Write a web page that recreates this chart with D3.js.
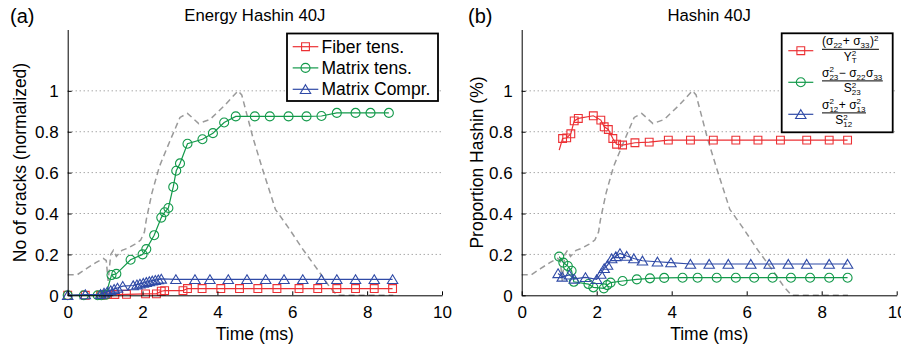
<!DOCTYPE html>
<html>
<head>
<meta charset="utf-8">
<script src="https://cdn.jsdelivr.net/npm/d3@7"></script>
<style>
  body { margin: 0; background: #fff; }
  svg { display: block; font-family: "Liberation Sans", Arial, Helvetica, sans-serif; }
</style>
</head>
<body>
<svg id="chart" width="901" height="348"></svg>
<script>
// ---- values ----
const timeTicks = [0, 2, 4, 6, 8, 10];
const valueTicks = [0, 0.2, 0.4, 0.6, 0.8, 1];

// normalised energy (grey dashed), same curve in both panels
const energyTime = [0, 0.25, 0.5, 0.75, 0.95, 1.03, 1.08, 1.15, 1.22, 1.3, 1.45, 1.6, 1.8, 1.95, 2.05, 2.1, 2.25, 2.45, 2.72, 3.0, 3.2, 3.5, 3.8, 4.2, 4.55, 4.65, 4.95, 5.2, 5.55, 5.9, 6.3, 6.7, 7.0, 7.2, 7.8, 8.7];
const energyValue = [0.1, 0.1, 0.13, 0.16, 0.18, 0.17, 0.07, 0.2, 0.22, 0.19, 0.22, 0.23, 0.25, 0.27, 0.31, 0.37, 0.5, 0.63, 0.75, 0.87, 0.89, 0.84, 0.86, 0.93, 1.0, 0.98, 0.77, 0.62, 0.42, 0.33, 0.22, 0.12, 0.04, 0, 0, 0];

// (a) number of cracks
const fiberTime = [0, 0.47, 0.88, 0.97, 1.06, 1.26, 1.57, 2.08, 2.37, 2.5, 2.59, 3.08, 3.2, 3.59, 4.09, 4.59, 5.08, 5.59, 6.18, 6.68, 7.19, 7.69, 8.19, 8.68];
const fiberCount = [0, 0, 0, 0.002, 0.004, 0.004, 0.005, 0.007, 0.007, 0.02, 0.023, 0.023, 0.033, 0.033, 0.033, 0.033, 0.033, 0.033, 0.033, 0.033, 0.033, 0.033, 0.033, 0.033];

const matrixTensTime = [0, 0.43, 0.8, 0.9, 1.02, 1.17, 1.3, 1.68, 2.0, 2.1, 2.31, 2.5, 2.59, 2.69, 2.82, 2.9, 3.0, 3.2, 3.6, 3.88, 4.18, 4.49, 5.0, 5.4, 5.9, 6.38, 6.78, 7.19, 7.69, 8.09, 8.58];
const matrixTensCount = [0, 0, 0, 0, 0.003, 0.099, 0.105, 0.174, 0.2, 0.226, 0.294, 0.38, 0.406, 0.427, 0.53, 0.609, 0.645, 0.741, 0.763, 0.793, 0.845, 0.875, 0.875, 0.875, 0.875, 0.875, 0.877, 0.892, 0.892, 0.892, 0.892];

const matrixComprTime = [0, 0.47, 0.88, 0.97, 1.06, 1.15, 1.24, 1.33, 1.47, 1.75, 1.85, 1.93, 2.02, 2.1, 2.18, 2.26, 2.34, 2.42, 2.5, 2.89, 3.4, 3.8, 4.29, 4.79, 5.29, 5.78, 6.28, 6.78, 7.19, 7.69, 8.19, 8.68];
const matrixComprCount = [0, 0.004, 0.005, 0.012, 0.018, 0.024, 0.03, 0.036, 0.045, 0.048, 0.052, 0.056, 0.06, 0.064, 0.068, 0.071, 0.074, 0.077, 0.08, 0.078, 0.078, 0.078, 0.078, 0.078, 0.078, 0.078, 0.078, 0.078, 0.078, 0.078, 0.078, 0.078];

// (b) proportion of each Hashin term
const propFiberTime = [1.0, 1.09, 1.2, 1.31, 1.4, 1.51, 1.91, 2.11, 2.2, 2.31, 2.43, 2.53, 2.69, 3.02, 3.4, 3.91, 4.5, 5.11, 5.71, 6.3, 6.9, 7.6, 8.2, 8.69];
const propFiberValue = [0.71, 0.767, 0.77, 0.79, 0.853, 0.865, 0.878, 0.857, 0.824, 0.811, 0.767, 0.739, 0.735, 0.746, 0.749, 0.759, 0.759, 0.759, 0.759, 0.759, 0.759, 0.759, 0.759, 0.759];

const propMatrixTensTime = [1.0, 1.11, 1.23, 1.33, 1.39, 1.78, 1.91, 2.19, 2.28, 2.37, 2.69, 3.07, 3.42, 3.8, 4.29, 4.69, 5.2, 5.71, 6.2, 6.69, 7.18, 7.69, 8.2, 8.69];
const propMatrixTensValue = [0.189, 0.16, 0.143, 0.12, 0.066, 0.055, 0.039, 0.034, 0.05, 0.062, 0.07, 0.078, 0.083, 0.085, 0.086, 0.086, 0.086, 0.086, 0.086, 0.086, 0.086, 0.086, 0.086, 0.086];

const propMatrixComprTime = [0.97, 1.08, 1.27, 1.4, 1.7, 2.0, 2.11, 2.2, 2.29, 2.4, 2.51, 2.62, 2.8, 2.99, 3.22, 3.62, 3.98, 4.5, 5.0, 5.51, 6.11, 6.6, 7.11, 7.6, 8.2, 8.69];
const propMatrixComprValue = [0.107, 0.09, 0.1, 0.08, 0.088, 0.078, 0.104, 0.132, 0.148, 0.18, 0.19, 0.205, 0.192, 0.18, 0.169, 0.164, 0.16, 0.153, 0.153, 0.153, 0.153, 0.153, 0.153, 0.153, 0.153, 0.153];

const crackLabels = ['Fiber tens.', 'Matrix tens.', 'Matrix Compr.'];

// hashin terms as (numerator, denominator) rich-text pieces
const hashinLabels = [
  {num: [{t: '(σ'}, {sub: '22'}, {t: '+ σ'}, {sub: '33'}, {t: ')'}, {sup: '2'}],
   den: [{t: 'Y '}, {sub: 'T', sup: '2'}]},
  {num: [{t: 'σ'}, {sub: '23', sup: '2'}, {t: '− σ'}, {sub: '22'}, {t: 'σ'}, {sub: '33'}],
   den: [{t: 'S '}, {sub: '23', sup: '2'}]},
  {num: [{t: 'σ'}, {sub: '12', sup: '2'}, {t: '+ σ'}, {sub: '13', sup: '2'}],
   den: [{t: 'S '}, {sub: '12', sup: '2'}]}
];

const RED = '#ec3034', GREEN = '#12994a', BLUE = '#2f4aa6', GREY = '#9a9a9a';

function markerPath(shape) {
  if (shape === 'square') return 'M-3.9,-3.9H3.9V3.9H-3.9Z';
  if (shape === 'triangle') return 'M0,-4.6L5.2,4.2L-5.2,4.2Z';
  const p = d3.path();
  p.arc(0, 0, 4.5, 0, 2 * Math.PI);
  p.closePath();
  return p.toString();
}

class HashinPanel {

  constructor(_config) {
    this.config = _config;
    this.initVis();
  }

  initVis() {
    let vis = this;
    const c = vis.config;

    vis.xScale = d3.scaleLinear().domain([0, 10]).range([c.left, c.right]);
    vis.yScale = d3.scaleLinear().domain([0, 1.3]).range([c.bottom, c.top]);

    vis.g = d3.select('#chart').append('g');

    vis.xAxis = d3.axisBottom(vis.xScale)
      .tickValues(timeTicks)
      .tickSizeInner(-4).tickSizeOuter(0)
      .tickPadding(10.6)
      .tickFormat(d3.format('d'));

    vis.yAxis = d3.axisLeft(vis.yScale)
      .tickValues(valueTicks)
      .tickSizeInner(-4).tickSizeOuter(0)
      .tickPadding(9)
      .tickFormat(d => d === 0 || d === 1 ? d3.format('d')(d) : d3.format('.1f')(d));

    vis.renderVis();
  }

  renderVis() {
    let vis = this;
    const c = vis.config;
    const line = d3.line().x(d => vis.xScale(d[0])).y(d => vis.yScale(d[1]));

    // dotted y grid
    vis.g.selectAll('.grid')
      .data(valueTicks.filter(d => d > 0))
      .enter().append('line')
      .attr('class', 'grid')
      .attr('x1', c.left).attr('x2', c.right)
      .attr('y1', d => vis.yScale(d)).attr('y2', d => vis.yScale(d))
      .attr('stroke', '#808080')
      .attr('stroke-width', 1)
      .attr('stroke-dasharray', '1,3');

    // energy curve
    vis.g.append('path')
      .datum(d3.zip(energyTime, energyValue))
      .attr('d', line)
      .attr('fill', 'none')
      .attr('stroke', GREY)
      .attr('stroke-width', 1.5)
      .attr('stroke-dasharray', '6,4');

    c.series.forEach(s => {
      const pts = d3.zip(s.time, s.value);
      vis.g.append('path')
        .datum(pts)
        .attr('d', line)
        .attr('fill', 'none')
        .attr('stroke', s.color)
        .attr('stroke-width', 1.2);
      vis.g.selectAll(null)
        .data(pts.slice(s.markFrom || 0))
        .enter().append('path')
        .attr('d', markerPath(s.shape))
        .attr('transform', d => `translate(${vis.xScale(d[0])},${vis.yScale(d[1])})`)
        .attr('fill', 'none')
        .attr('stroke', s.color)
        .attr('stroke-width', 1.1);
    });

    vis.g.append('g')
      .attr('transform', `translate(0,${c.bottom})`)
      .call(vis.xAxis)
      .call(g => g.attr('font-size', 17).attr('font-family', null))
      .call(g => g.selectAll('.tick text').attr('fill', '#000'));

    vis.g.append('g')
      .attr('transform', `translate(${c.left},0)`)
      .call(vis.yAxis)
      .call(g => g.attr('font-size', 17).attr('font-family', null))
      .call(g => g.selectAll('.tick text').attr('dy', '0.34em').attr('fill', '#000'));

    // titles
    const mid = (c.left + c.right) / 2;
    vis.g.append('text')
      .attr('x', c.tagX).attr('y', 22.5)
      .attr('font-size', 20)
      .text(c.tag);
    vis.g.append('text')
      .attr('x', mid).attr('y', 20.5)
      .attr('text-anchor', 'middle')
      .attr('font-size', 16.7)
      .text(c.title);
    vis.g.append('text')
      .attr('x', mid).attr('y', 340)
      .attr('text-anchor', 'middle')
      .attr('font-size', 17.5)
      .text('Time (ms)');
    vis.g.append('text')
      .attr('transform', `translate(${c.yLabelX},162.5) rotate(-90)`)
      .attr('text-anchor', 'middle')
      .attr('font-size', 17.5)
      .text(c.yLabel);
  }

  // framed legend with a line+marker sample per series
  legendBox(box, rowY, lineX0, lineX1) {
    let vis = this;
    vis.g.append('rect')
      .attr('x', box.x).attr('y', box.y).attr('width', box.w).attr('height', box.h)
      .attr('fill', '#fff').attr('stroke', '#000').attr('stroke-width', 1.8);
    vis.config.series.forEach((s, i) => {
      vis.g.append('line')
        .attr('x1', lineX0).attr('x2', lineX1).attr('y1', rowY[i]).attr('y2', rowY[i])
        .attr('stroke', s.color).attr('stroke-width', 1.2);
      vis.g.append('path')
        .attr('d', markerPath(s.shape))
        .attr('transform', `translate(${(lineX0 + lineX1) / 2},${rowY[i]})`)
        .attr('fill', 'none').attr('stroke', s.color).attr('stroke-width', 1.1);
    });
  }
}

// lays out a run of text pieces with stacked sub/superscripts, returns width
function richText(parent, pieces, x, y) {
  const g = parent.append('g');
  let cx = x;
  pieces.forEach(p => {
    if (p.t !== undefined) {
      const t = g.append('text').attr('x', cx).attr('y', y)
        .attr('font-size', 12).text(p.t);
      cx += t.node().getComputedTextLength();
    } else {
      let w = 0;
      if (p.sup) {
        const t = g.append('text').attr('x', cx).attr('y', y - 4.6)
          .attr('font-size', 8).text(p.sup);
        w = Math.max(w, t.node().getComputedTextLength());
      }
      if (p.sub) {
        const t = g.append('text').attr('x', cx).attr('y', y + 2.8)
          .attr('font-size', 8).text(p.sub);
        w = Math.max(w, t.node().getComputedTextLength());
      }
      cx += w + 0.5;
    }
  });
  return {g: g, width: cx - x};
}

// ---- panel (a) ----
const left = new HashinPanel({
  left: 67.7, right: 442, top: 29.5, bottom: 295.3,
  tag: '(a)', tagX: 10, title: 'Energy Hashin 40J',
  yLabel: 'No of cracks (normalized)', yLabelX: 25.5,
  series: [
    {time: fiberTime, value: fiberCount, color: RED, shape: 'square'},
    {time: matrixTensTime, value: matrixTensCount, color: GREEN, shape: 'circle'},
    {time: matrixComprTime, value: matrixComprCount, color: BLUE, shape: 'triangle'}
  ]
});

const leftRows = [46.7, 67.9, 89.3];
left.legendBox({x: 287, y: 33.5, w: 151, h: 67.5}, leftRows, 292.7, 318.3);
left.g.selectAll('.legend-label')
  .data(crackLabels)
  .enter().append('text')
  .attr('class', 'legend-label')
  .attr('x', 321.5)
  .attr('y', (d, i) => leftRows[i])
  .attr('dy', '0.35em')
  .attr('font-size', 17.5)
  .text(d => d);

// ---- panel (b) ----
const right = new HashinPanel({
  left: 521.7, right: 896.7, top: 29.5, bottom: 295.3,
  tag: '(b)', tagX: 468, title: 'Hashin 40J',
  yLabel: 'Proportion Hashin (%)', yLabelX: 482.5,
  series: [
    {time: propFiberTime, value: propFiberValue, color: RED, shape: 'square', markFrom: 1},
    {time: propMatrixTensTime, value: propMatrixTensValue, color: GREEN, shape: 'circle'},
    {time: propMatrixComprTime, value: propMatrixComprValue, color: BLUE, shape: 'triangle'}
  ]
});

const rightRows = [50.7, 82.3, 114.3];
right.legendBox({x: 781.7, y: 33.3, w: 111, h: 99}, rightRows, 788.3, 813.3);
hashinLabels.forEach((lab, i) => {
  const x0 = 822, ry = rightRows[i];
  const num = richText(right.g, lab.num, 0, ry - 5.6);
  const den = richText(right.g, lab.den, 0, ry + 9.8);
  const w = Math.max(num.width, den.width);
  num.g.attr('transform', `translate(${x0 + (w - num.width) / 2},0)`);
  den.g.attr('transform', `translate(${x0 + (w - den.width) / 2},0)`);
  right.g.append('line')
    .attr('x1', x0).attr('x2', x0 + w)
    .attr('y1', ry - 1.4).attr('y2', ry - 1.4)
    .attr('stroke', '#000').attr('stroke-width', 1);
});
</script>
</body>
</html>
